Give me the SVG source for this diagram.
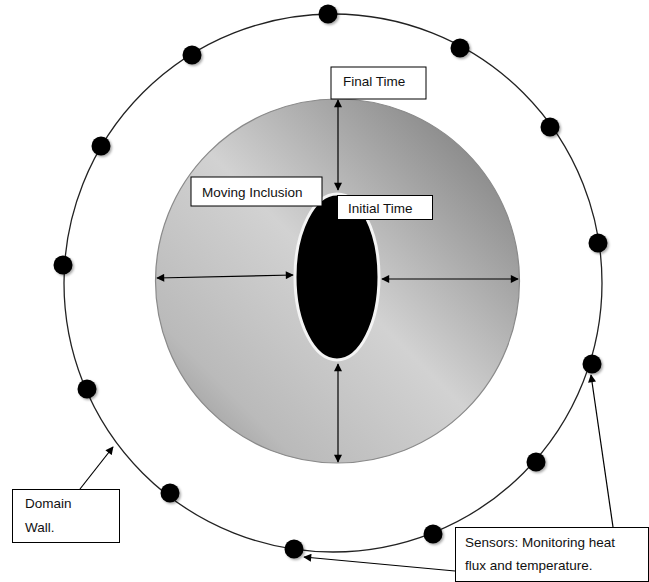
<svg xmlns="http://www.w3.org/2000/svg" width="649" height="582" viewBox="0 0 649 582">
<style>
.box{fill:#fff;stroke:#000;stroke-width:1}
.lbl{font-family:"Liberation Sans",Arial,sans-serif;font-size:13.5px;fill:#111}
.arr{stroke:#000;stroke-width:1.2;fill:none}
.dot{fill:#000}
</style>
<defs>
<linearGradient id="disk" x1="1" y1="0" x2="0" y2="1">
<stop offset="0" stop-color="#727272"/>
<stop offset="0.5" stop-color="#d2d2d2"/>
<stop offset="0.8" stop-color="#bababa"/>
<stop offset="1" stop-color="#888"/>
</linearGradient>
<filter id="sh" x="-50%" y="-50%" width="200%" height="200%">
<feDropShadow dx="1.5" dy="1.5" stdDeviation="1.2" flood-color="#000" flood-opacity="0.35"/>
</filter>
<marker id="ah" viewBox="0 0 10 10" refX="9" refY="5" markerWidth="9" markerHeight="8" markerUnits="userSpaceOnUse" orient="auto-start-reverse">
<path d="M0,0 L10,5 L0,10 z" fill="#000"/>
</marker>
</defs>

<g id="domain-wall-circle">
<circle cx="333" cy="283" r="269" fill="none" stroke="#222" stroke-width="1.3"/>
</g>

<g id="disk-node">
<circle cx="337.5" cy="281" r="182" fill="url(#disk)" stroke="#8a8a8a" stroke-width="1.2"/>
</g>

<g id="inclusion">
<ellipse cx="337" cy="277" rx="42" ry="83" fill="#000" stroke="#f4f4f4" stroke-width="3"/>
</g>

<g id="sensors" filter="url(#sh)">
<circle class="dot" cx="328" cy="14" r="9.5"/>
<circle class="dot" cx="460" cy="48" r="9.5"/>
<circle class="dot" cx="550" cy="127" r="9.5"/>
<circle class="dot" cx="598" cy="243" r="9.5"/>
<circle class="dot" cx="592" cy="364" r="9.5"/>
<circle class="dot" cx="536" cy="462" r="9.5"/>
<circle class="dot" cx="433" cy="534" r="9.5"/>
<circle class="dot" cx="294" cy="549" r="9.5"/>
<circle class="dot" cx="170" cy="493" r="9.5"/>
<circle class="dot" cx="87" cy="389" r="9.5"/>
<circle class="dot" cx="63" cy="265" r="9.5"/>
<circle class="dot" cx="101" cy="146" r="9.5"/>
<circle class="dot" cx="192" cy="55" r="9.5"/>
</g>

<g id="connectors">
<line class="arr" x1="338" y1="190" x2="338" y2="100" marker-start="url(#ah)" marker-end="url(#ah)"/>
<line class="arr" x1="157" y1="278" x2="293" y2="275" marker-start="url(#ah)" marker-end="url(#ah)"/>
<line class="arr" x1="382" y1="279" x2="518" y2="279" marker-start="url(#ah)" marker-end="url(#ah)"/>
<line class="arr" x1="338" y1="364" x2="338" y2="462" marker-start="url(#ah)" marker-end="url(#ah)"/>
<line class="arr" x1="80" y1="489" x2="113" y2="447" marker-end="url(#ah)"/>
<line class="arr" x1="613" y1="527" x2="591" y2="375" marker-end="url(#ah)"/>
<line class="arr" x1="455" y1="571" x2="304" y2="557" marker-end="url(#ah)"/>
</g>

<g id="final-time">
<rect class="box" x="331" y="67" width="95" height="32"/>
<text class="lbl" x="343" y="86">Final Time</text>
</g>

<g id="moving-inclusion">
<rect class="box" x="191" y="177" width="131" height="29"/>
<text class="lbl" x="202" y="197">Moving Inclusion</text>
</g>

<g id="initial-time">
<rect class="box" x="337.5" y="195.5" width="95" height="24"/>
<text class="lbl" x="348" y="213">Initial Time</text>
</g>

<g id="domain-wall-label">
<rect class="box" x="12.5" y="489.5" width="107" height="53"/>
<text class="lbl" x="25" y="508">Domain</text>
<text class="lbl" x="25" y="532">Wall.</text>
</g>

<g id="sensors-label">
<rect class="box" x="455.5" y="527.5" width="193" height="54"/>
<text class="lbl" x="465" y="547">Sensors: Monitoring heat</text>
<text class="lbl" x="465" y="570">flux and temperature.</text>
</g>
</svg>
